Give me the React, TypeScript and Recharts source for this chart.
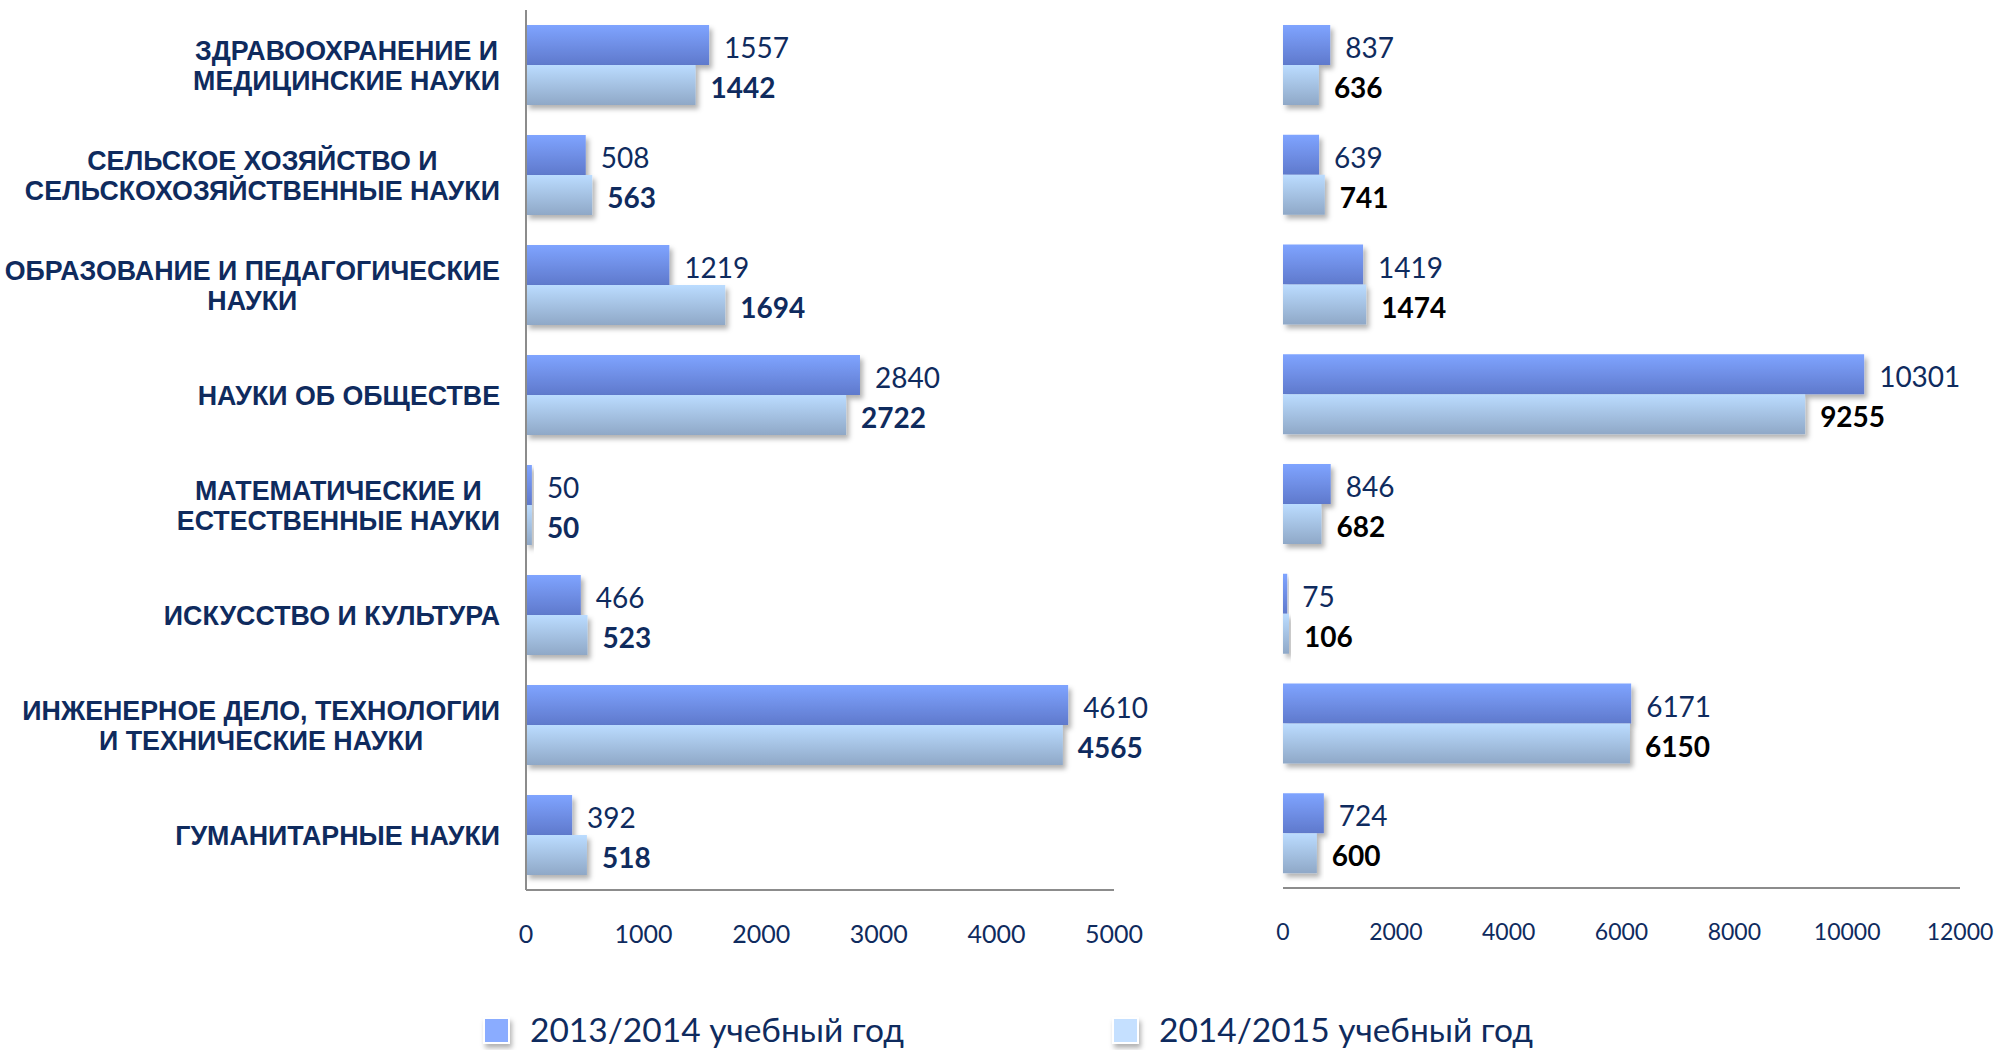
import React from 'react';
import { BarChart, Bar, XAxis, YAxis, LabelList } from 'recharts';

const categories = [
  'ЗДРАВООХРАНЕНИЕ И\nМЕДИЦИНСКИЕ НАУКИ',
  'СЕЛЬСКОЕ ХОЗЯЙСТВО И\nСЕЛЬСКОХОЗЯЙСТВЕННЫЕ НАУКИ',
  'ОБРАЗОВАНИЕ И ПЕДАГОГИЧЕСКИЕ\nНАУКИ',
  'НАУКИ ОБ ОБЩЕСТВЕ',
  'МАТЕМАТИЧЕСКИЕ И\nЕСТЕСТВЕННЫЕ НАУКИ',
  'ИСКУССТВО И КУЛЬТУРА',
  'ИНЖЕНЕРНОЕ ДЕЛО, ТЕХНОЛОГИИ\nИ ТЕХНИЧЕСКИЕ НАУКИ',
  'ГУМАНИТАРНЫЕ НАУКИ',
];
const seriesNames = ['2013/2014 учебный год', '2014/2015 учебный год'];
const left2013 = [1557, 508, 1219, 2840, 50, 466, 4610, 392];
const left2014 = [1442, 563, 1694, 2722, 50, 523, 4565, 518];
const right2013 = [837, 639, 1419, 10301, 846, 75, 6171, 724];
const right2014 = [636, 741, 1474, 9255, 682, 106, 6150, 600];
const leftTicks = [0, 1000, 2000, 3000, 4000, 5000];
const rightTicks = [0, 2000, 4000, 6000, 8000, 10000, 12000];

const leftData = categories.map((name, i) => ({ name, a: left2013[i], b: left2014[i] }));
const rightData = categories.map((name, i) => ({ name, a: right2013[i], b: right2014[i] }));

const NAVY = '#0f2b5e';
const CAT_FONT = '"Liberation Sans", Arial, sans-serif';
const NUM_FONT = 'Lato, "Open Sans", sans-serif';
const CAT_SIZE = 28;
const CAT_SX = 0.957;

let measureCtx: CanvasRenderingContext2D | null = null;
function measure(text: string): number {
  if (!measureCtx) {
    const c = document.createElement('canvas');
    measureCtx = c.getContext('2d');
  }
  if (!measureCtx) return text.length * CAT_SIZE * 0.7;
  measureCtx.font = `bold ${CAT_SIZE}px ${CAT_FONT}`;
  return measureCtx.measureText(text).width;
}

const catStyle = { fontFamily: CAT_FONT, fontWeight: 700, fontSize: CAT_SIZE };

const CategoryTick = (props: any) => {
  const { x, y, payload } = props;
  const lines: string[] = String(payload.value).split('\n');
  const lh = 30.4;
  const w = Math.max(...lines.map(measure));
  const y0 = -((lines.length - 1) * lh) / 2;
  const single = lines.length === 1;
  return (
    <g transform={`translate(${x},${y}) scale(${CAT_SX},1)`}>
      {lines.map((l, i) => (
        <text key={i} x={single ? 0 : -w / 2} y={y0 + i * lh} dy="0.36em"
          textAnchor={single ? 'end' : 'middle'} fill={NAVY} style={catStyle}>
          {l}
        </text>
      ))}
    </g>
  );
};

const makeXTick = (size: number) => (props: any) => {
  const { x, y, payload } = props;
  return (
    <text x={x} y={y + 43} textAnchor="middle" dominantBaseline="central" fill={NAVY}
      style={{ fontFamily: NUM_FONT, fontSize: size }}>
      {payload.value}
    </text>
  );
};

const makeValueLabel = (bold: boolean, color: string) => (props: any) => {
  const { x, y, width, height, value } = props;
  return (
    <text x={x + width + 15} y={y + height / 2 + 2} dominantBaseline="central" fill={color}
      style={{ fontFamily: NUM_FONT, fontSize: 28, fontWeight: bold ? 700 : 400 }}>
      {value}
    </text>
  );
};

const makeShape = (fillId: string, filterId: string) => (props: any) => {
  const { x, y, width, height } = props;
  if (!width || width <= 0) return <g />;
  return <rect x={x} y={y} width={width} height={height} fill={`url(#${fillId})`} filter={`url(#${filterId})`} />;
};

const Defs = ({ p }: { p: string }) => (
  <defs>
    <linearGradient id={`${p}dark`} x1="0" y1="0" x2="0" y2="1">
      <stop offset="0%" stopColor="#7fa4ff" />
      <stop offset="100%" stopColor="#5f79cc" />
    </linearGradient>
    <linearGradient id={`${p}light`} x1="0" y1="0" x2="0" y2="1">
      <stop offset="0%" stopColor="#bbdcff" />
      <stop offset="100%" stopColor="#8fa8c7" />
    </linearGradient>
    <filter id={`${p}sh`} x="-20%" y="-20%" width="140%" height="170%">
      <feDropShadow dx="3" dy="4" stdDeviation="2.5" floodColor="#000" floodOpacity="0.3" />
    </filter>
  </defs>
);

const AXIS_COLOR = '#8c8c8c';

export default function App() {
  return (
    <div style={{ position: 'absolute', left: 0, top: 0, width: 1997, height: 1050, background: '#fff', overflow: 'hidden' }}>
      <div style={{ position: 'absolute', left: 0, top: 0 }}>
        <BarChart width={1154} height={960} layout="vertical" data={leftData}
          margin={{ top: 10, right: 40, bottom: 0, left: 0 }} barGap={0}>
          <Defs p="L" />
          <XAxis type="number" domain={[0, 5000]} ticks={leftTicks} height={70}
            axisLine={{ stroke: AXIS_COLOR, strokeWidth: 2 }} tickLine={false} tickSize={0} tickMargin={0}
            tick={makeXTick(25)} interval={0} />
          <YAxis type="category" dataKey="name" width={526} interval={0}
            axisLine={{ stroke: AXIS_COLOR, strokeWidth: 2 }} tickLine={false} tickSize={0} tickMargin={26}
            tick={<CategoryTick />} />
          <Bar dataKey="a" name={seriesNames[0]} barSize={40} isAnimationActive={false} shape={makeShape('Ldark', 'Lsh')}>
            <LabelList dataKey="a" content={makeValueLabel(false, NAVY)} />
          </Bar>
          <Bar dataKey="b" name={seriesNames[1]} barSize={40} isAnimationActive={false} shape={makeShape('Llight', 'Lsh')}>
            <LabelList dataKey="b" content={makeValueLabel(true, NAVY)} />
          </Bar>
        </BarChart>
      </div>
      <div style={{ position: 'absolute', left: 1240, top: 0 }}>
        <BarChart width={757} height={960} layout="vertical" data={rightData}
          margin={{ top: 10, right: 37, bottom: 0, left: 43 }} barGap={0}>
          <Defs p="R" />
          <XAxis type="number" domain={[0, 12000]} ticks={rightTicks} height={72}
            axisLine={{ stroke: AXIS_COLOR, strokeWidth: 2 }} tickLine={false} tickSize={0} tickMargin={0}
            tick={makeXTick(23)} interval={0} />
          <YAxis type="category" dataKey="name" hide />
          <Bar dataKey="a" name={seriesNames[0]} barSize={40} isAnimationActive={false} shape={makeShape('Rdark', 'Rsh')}>
            <LabelList dataKey="a" content={makeValueLabel(false, NAVY)} />
          </Bar>
          <Bar dataKey="b" name={seriesNames[1]} barSize={40} isAnimationActive={false} shape={makeShape('Rlight', 'Rsh')}>
            <LabelList dataKey="b" content={makeValueLabel(true, '#000')} />
          </Bar>
        </BarChart>
      </div>
      <svg style={{ position: 'absolute', left: 0, top: 990 }} width={1997} height={60}>
        <defs>
          <filter id="legsh" x="-30%" y="-30%" width="170%" height="180%">
            <feDropShadow dx="2" dy="4" stdDeviation="2.5" floodColor="#000" floodOpacity="0.3" />
          </filter>
        </defs>
        {seriesNames.map((n, i) => {
          const x0 = 484 + i * 629;
          return (
            <g key={n}>
              <rect x={x0} y={28} width={25} height={25} fill={i === 0 ? '#8aacff' : '#c5e0ff'} stroke="#fff" strokeWidth={2} filter="url(#legsh)" />
              <text x={x0 + 46} y={39} dominantBaseline="central" fill={NAVY}
                style={{ fontFamily: NUM_FONT, fontSize: 33.5 }}>{n}</text>
            </g>
          );
        })}
      </svg>
    </div>
  );
}
